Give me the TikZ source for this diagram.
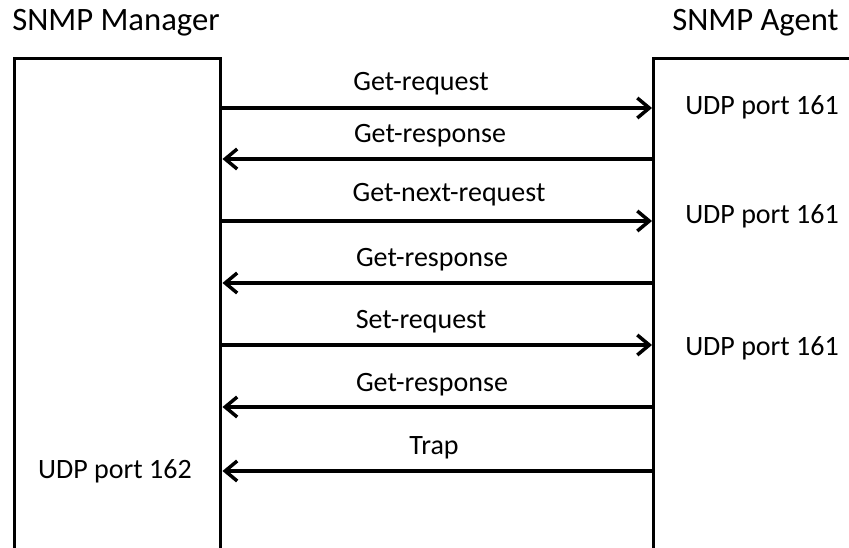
\documentclass[tikz,border=0pt]{standalone}
\usepackage{fontspec}
\setmainfont{Carlito}
\usetikzlibrary{arrows.meta, positioning}

\begin{document}
\begin{tikzpicture}[
    x=0.75pt, y=-0.75pt,
    >={Straight Barb[length=9pt, width=15pt]},
    % --- styles ---
    entity/.style={draw, line width=2.6pt, anchor=north west, inner sep=0pt, minimum height=450pt},
    title/.style={anchor=base west, inner sep=0pt, font=\fontsize{24.5}{29}\selectfont},
    port/.style={anchor=base, font=\fontsize{21}{25}\selectfont},
    msglabel/.style={anchor=base, font=\fontsize{21}{25}\selectfont},
    msg/.style={->, line width=2.6pt}
]
\useasboundingbox (0,0) rectangle (849,548);
\clip (0,0) rectangle (849,548);

% ==================== 1. Manager / Agent ====================
\node[entity, minimum width=154.5pt] (Mgr) at (13,57) {};
\node[entity, minimum width=200pt] (Agent) at (652,57) {};

\node[title] (MgrTitle) at (12,31) {SNMP Manager};
\node[title] (AgentTitle) at (672,31) {SNMP Agent};

% ports
\node[port] (Port1) at (762,115) {UDP port 161};
\node[port] (Port2) at (762,224) {UDP port 161};
\node[port] (Port3) at (762,356) {UDP port 161};
\node[port] (Port4) at (115,479) {UDP port 162};

% ==================== 2. Messages ====================
% Get
\draw[msg] (Mgr.east |- 0,108) -- (Agent.west |- 0,108);
\node[msglabel] (GetReq) at (421,91) {Get-request};
\draw[msg] (Agent.west |- 0,159) -- (Mgr.east |- 0,159);
\node[msglabel] (GetResp1) at (430,143) {Get-response};

% Get-next
\draw[msg] (Mgr.east |- 0,221) -- (Agent.west |- 0,221);
\node[msglabel] (GetNext) at (449,202) {Get-next-request};
\draw[msg] (Agent.west |- 0,283) -- (Mgr.east |- 0,283);
\node[msglabel] (GetResp2) at (432,267) {Get-response};

% Set
\draw[msg] (Mgr.east |- 0,345) -- (Agent.west |- 0,345);
\node[msglabel] (SetReq) at (421,329) {Set-request};
\draw[msg] (Agent.west |- 0,407) -- (Mgr.east |- 0,407);
\node[msglabel] (GetResp3) at (432,392) {Get-response};

% Trap
\draw[msg] (Agent.west |- 0,471) -- (Mgr.east |- 0,471);
\node[msglabel] (Trap) at (434,455) {Trap};

\end{tikzpicture}
\end{document}
